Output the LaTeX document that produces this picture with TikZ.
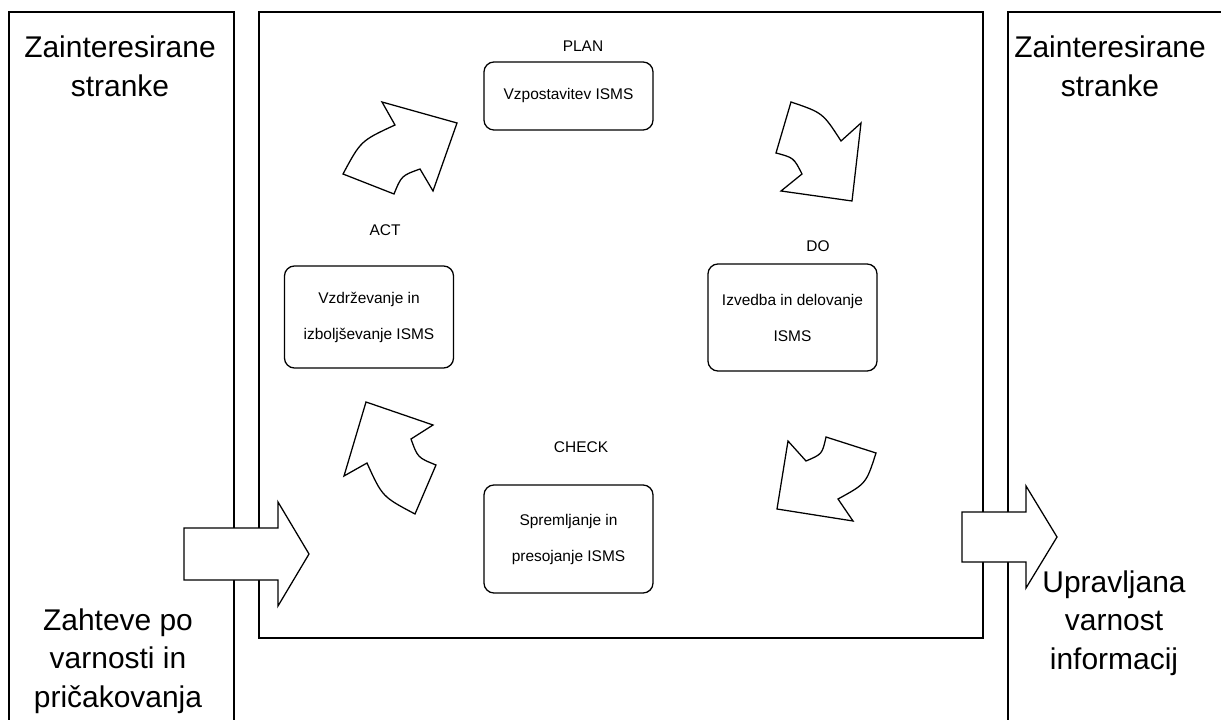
\documentclass[tikz,border=0pt]{standalone}
\usepackage{fontspec}
\setmainfont{Liberation Sans}

\begin{document}
\begin{tikzpicture}[x=0.025cm, y=-0.025cm,
            frame/.style={line width=0.9pt},
            phase/.style={rectangle, draw, rounded corners=0.25cm, line width=0.9pt, minimum width=4.225cm, text centered, align=center, font=\fontsize{11}{25.6}\selectfont},
            tag/.style={font=\fontsize{11}{13}\selectfont},
            party/.style={align=center, font=\fontsize{21.3}{27.5}\selectfont},
            blockarrow/.style={draw, fill=white, line width=0.9pt, line join=miter}
            ]
            \useasboundingbox (0,0) rectangle (1221,720);

            % Outer frames
            \draw[frame] (9,720) -- (9,12) -- (234,12) -- (234,720);
            \draw[frame] (259,12) rectangle (983,638);
            \draw[frame] (1221,12) -- (1008,12) -- (1008,720);

            % PDCA phases
            \node[phase, minimum height=1.7cm] (plan) at (568.5,96) {Vzpostavitev ISMS};
            \node[phase, minimum height=2.675cm] (do) at (792.5,317.5) {Izvedba in delovanje\\ISMS};
            \node[phase, minimum height=2.7cm] (check) at (568.5,539) {Spremljanje in\\presojanje ISMS};
            \node[phase, minimum height=2.55cm] (act) at (369,317) {Vzdrževanje in\\izboljševanje ISMS};

            % Phase labels
            \node[tag] (planlbl) at (583,46) {PLAN};
            \node[tag] (dolbl) at (818,246) {DO};
            \node[tag] (checklbl) at (581,447) {CHECK};
            \node[tag] (actlbl) at (385,230) {ACT};

            % Cycle arrows
            \draw[blockarrow] (343,174) .. controls (360.8,140.8) .. (395,125) -- (382,102) -- (457,123) -- (433,191) -- (420,169) .. controls (401.5,175.7) .. (394,194) -- cycle;
            \draw[blockarrow] (791,102) .. controls (822.8,112.8) .. (841,141) -- (861,123) -- (852,201) -- (781,191) -- (802,174) .. controls (793.7,157.7) .. (776,153) -- cycle;
            \draw[blockarrow] (876,453) .. controls (866.2,483.6) .. (838,499) -- (853,521) -- (777,509) -- (788,441) -- (806,461) .. controls (822.2,454.1) .. (826,437) -- cycle;
            \draw[blockarrow] (415,514) .. controls (382.3,496.7) .. (367,463) -- (344,476) -- (366,402) -- (433,425) -- (411,439) .. controls (417.7,457.6) .. (436,465) -- cycle;

            % Input and output
            \draw[blockarrow] (184,528) -- (278,528) -- (278,502) -- (309,554) -- (278,606) -- (278,580) -- (184,580) -- cycle;
            \draw[blockarrow] (962,512) -- (1026,512) -- (1026,486) -- (1057,537) -- (1026,588) -- (1026,562) -- (962,562) -- cycle;

            % Interested parties
            \node[party] (partiesin) at (120,66) {Zainteresirane\\stranke};
            \node[party] (partiesout) at (1110,66) {Zainteresirane\\stranke};
            \node[party] (requirements) at (118,661) {Zahteve po\\varnosti in\\pričakovanja};
            \node[party] (managed) at (1114,623) {Upravljana\\varnost\\informacij};

\end{tikzpicture}
\end{document}
